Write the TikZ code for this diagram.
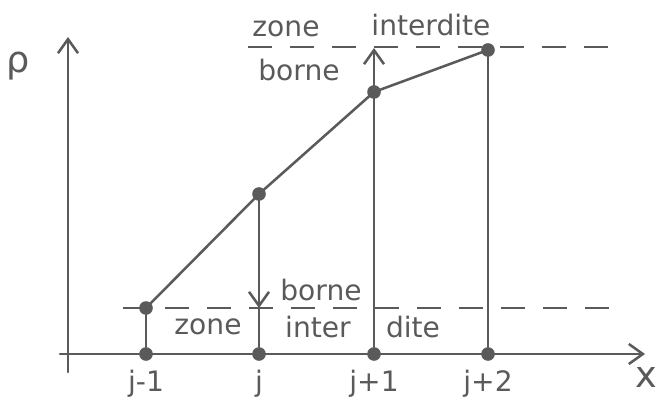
\documentclass[tikz,border=0pt]{standalone}
\usepackage{fontspec}
\setmainfont{DejaVu Sans}
\usetikzlibrary{positioning, arrows.meta}
\definecolor{ink}{HTML}{5A5A5A}
\tikzset{
  axis/.style={draw=ink, line width=1.8pt, line cap=round,
               -{Straight Barb[length=3.5mm, width=5mm, line width=1.8pt]}},
  push/.style={draw=ink, line width=1.8pt, line cap=round,
               -{Straight Barb[length=3.5mm, width=5mm, line width=1.8pt]}},
  dot/.style={circle, fill=ink, inner sep=0pt, minimum size=3.4mm},
  guide/.style={draw=ink, line width=1.2pt},
  curve/.style={draw=ink, line width=1.8pt, line join=round},
  bound/.style={draw=ink, line width=1.4pt, dash pattern=on 6mm off 4.5mm},
  lbl/.style={text=ink, font=\fontsize{20}{24}\selectfont, inner sep=0pt},
  biglbl/.style={lbl, font=\fontsize{26}{30}\selectfont},
}
\begin{document}
\begin{tikzpicture}[x=0.025cm, y=-0.025cm]
  \useasboundingbox (0,0) rectangle (656,412);
  % axes
  \coordinate (xs) at (60,354);
  \coordinate (xe) at (645,354);
  \coordinate (ys) at (68,372);
  \coordinate (ye) at (68,37);
  \draw[axis] (xs) -- (xe);
  \draw[axis] (ys) -- (ye);
  \node[biglbl] (rho) at (18,66) {ρ};
  \node[biglbl] (xlab) at (646,378) {x};
  % bounds
  \coordinate (lo1) at (123,308);
  \coordinate (lo2) at (625,308);
  \coordinate (hi1) at (248,47);
  \coordinate (hi2) at (620,47);
  \draw[bound] (lo1) -- (lo2);
  \draw[bound] (hi1) -- (hi2);
  % grid points and values
  \node[dot] (a1) at (146,354) {};
  \node[dot] (a2) at (259,354) {};
  \node[dot] (a3) at (374,354) {};
  \node[dot] (a4) at (488,354) {};
  \node[dot] (p1) at (146,308) {};
  \node[dot] (p2) at (259,194) {};
  \node[dot] (p3) at (374,92) {};
  \node[dot] (p4) at (488,50) {};
  \coordinate (b2) at (259,308);
  \coordinate (t3) at (374,48);
  \draw[curve] (p1.center) -- (p2.center) -- (p3.center) -- (p4.center);
  \draw[guide] (a1.center) -- (p1.center);
  \draw[guide] (a2.center) -- (b2);
  \draw[guide] (a3.center) -- (p3.center);
  \draw[guide] (a4.center) -- (p4.center);
  \draw[push] (p2.center) -- (b2);
  \draw[push] (p3.center) -- (t3);
  % labels
  \node[lbl] (zt) at (286,29) {zone};
  \node[lbl] (it) at (431,25) {interdite};
  \node[lbl] (bt) at (299,70) {borne};
  \node[lbl] (bb) at (321,290) {borne};
  \node[lbl] (zb) at (208,327) {zone};
  \node[lbl] (ib) at (318,327) {inter};
  \node[lbl] (db) at (413,327) {dite};
  \node[lbl] (j1) at (146,384) {j-1};
  \node[lbl] (j2) at (259,384) {j};
  \node[lbl] (j3) at (374,384) {j+1};
  \node[lbl] (j4) at (488,384) {j+2};
\end{tikzpicture}
\end{document}
